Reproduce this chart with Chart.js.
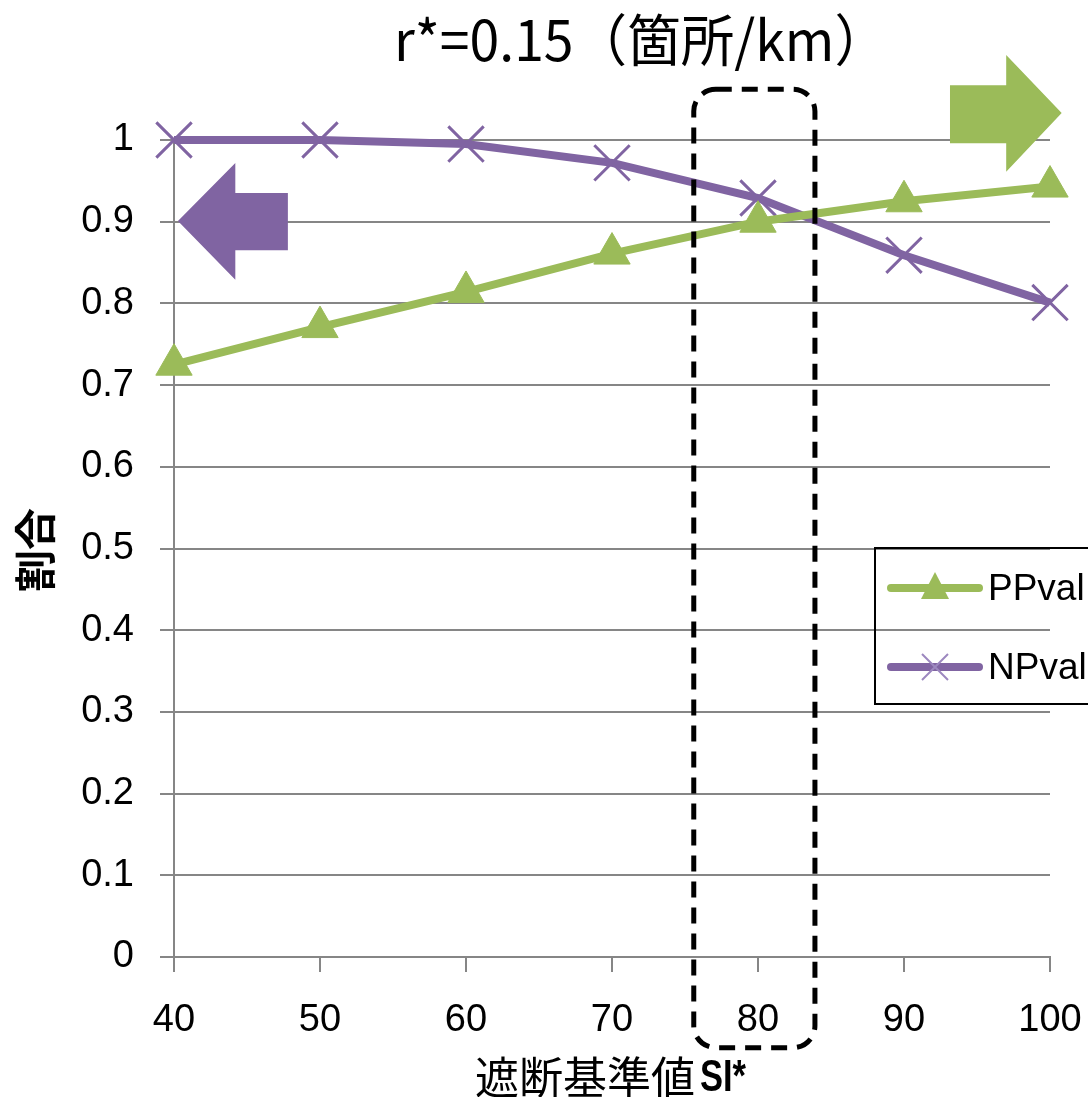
<!DOCTYPE html>
<html lang="ja">
<head>
  <meta charset="UTF-8">
  <title>PPval / NPval</title>
  <style>
    body { margin: 0; padding: 0; background: #fff; }
    #chart-container { width: 1088px; height: 1097px; }
  </style>
  <script src="https://cdn.jsdelivr.net/npm/chart.js"></script>
</head>
<body>
  <div id="chart-container">
    <canvas id="ratioChart" width="1088" height="1097"></canvas>
  </div>
  <script>
    // data
    const thresholds = [40, 50, 60, 70, 80, 90, 100];
    const ppVal = [0.725, 0.771, 0.814, 0.861, 0.900, 0.925, 0.943];
    const npVal = [1.0, 1.0, 0.995, 0.972, 0.929, 0.859, 0.801];
    const seriesNames = ['PPval', 'NPval'];
    const yTickLabels = ['0', '0.1', '0.2', '0.3', '0.4', '0.5', '0.6', '0.7', '0.8', '0.9', '1'];

    const titleText = 'r*=0.15（箇所/km）';
    const xTitleJp = '遮断基準値';
    const xTitleEn = 'SI*';
    const yTitle = '割合';

    const GREEN = '#9BBB59';
    const PURPLE = '#8064A2';
    const GRID = '#868686';
    const tickFont = '"Liberation Sans", Arial, sans-serif';
    const jpFont = '"Noto Sans CJK JP", sans-serif';

    const toPoints = (vals) => vals.map((v, i) => ({ x: thresholds[i], y: v }));

    // draws text squeezed to a given width
    function fitText(ctx, text, x0, cy, width) {
      const w = ctx.measureText(text).width;
      const s = Math.min(1, width / w);
      ctx.save();
      ctx.translate(x0, cy);
      ctx.scale(s, 1);
      ctx.fillText(text, 0, 0);
      ctx.restore();
    }

    function arrow(ctx, pts, color) {
      ctx.beginPath();
      pts.forEach((p, i) => i ? ctx.lineTo(p[0], p[1]) : ctx.moveTo(p[0], p[1]));
      ctx.closePath();
      ctx.fillStyle = color;
      ctx.fill();
    }

    const overlay = {
      id: 'overlay',
      afterDatasetsDraw(chart) {
        const { ctx } = chart;
        const x = chart.scales.x, y = chart.scales.y;
        const px = v => x.getPixelForValue(v), py = v => y.getPixelForValue(v);

        // left purple arrow
        arrow(ctx, [
          [px(40.27), py(0.901)], [px(44.2), py(0.972)], [px(44.2), py(0.935)],
          [px(47.8), py(0.935)], [px(47.8), py(0.865)], [px(44.2), py(0.865)],
          [px(44.2), py(0.829)]
        ], PURPLE);

        // right green arrow
        arrow(ctx, [
          [px(100.8), py(1.033)], [px(97.0), py(1.104)], [px(97.0), py(1.067)],
          [px(93.15), py(1.067)], [px(93.15), py(0.996)], [px(97.0), py(0.996)],
          [px(97.0), py(0.961)]
        ], GREEN);

        // dashed rounded box round SI*=80
        ctx.save();
        ctx.strokeStyle = '#000';
        ctx.lineWidth = 5;
        ctx.setLineDash([16, 10]);
        const bx = px(75.6), bx2 = px(83.9), by = py(1.062), by2 = py(-0.111);
        ctx.beginPath();
        ctx.roundRect(bx, by, bx2 - bx, by2 - by, 22);
        ctx.stroke();
        ctx.restore();
      },
      afterDraw(chart) {
        const { ctx } = chart;
        ctx.save();
        ctx.fillStyle = '#000';
        ctx.textBaseline = 'middle';
        ctx.textAlign = 'left';

        // title
        ctx.font = '56px ' + jpFont;
        fitText(ctx, titleText, 394, 40, 494);

        // x title
        ctx.font = '44px ' + jpFont;
        fitText(ctx, xTitleJp, 475, 1077, 228);
        ctx.font = 'bold 44px "Liberation Sans", sans-serif';
        fitText(ctx, xTitleEn, 700, 1079, 46);

        // y title
        ctx.textAlign = 'center';
        ctx.font = 'bold 42px ' + jpFont;
        ctx.save();
        ctx.translate(35, 550);
        ctx.rotate(-Math.PI / 2);
        ctx.fillText(yTitle, 0, 0);
        ctx.restore();

        // legend
        const lx = 875, ly = 548;
        ctx.lineWidth = 2;
        ctx.strokeStyle = '#000';
        ctx.strokeRect(lx, ly, 220, 156);
        const rows = [588, 667];
        chart.data.datasets.forEach((ds, i) => {
          const ry = rows[i];
          ctx.strokeStyle = ds.borderColor;
          ctx.lineWidth = 8;
          ctx.lineCap = 'round';
          ctx.beginPath();
          ctx.moveTo(lx + 16, ry);
          ctx.lineTo(lx + 104, ry);
          ctx.stroke();
          const mx = lx + 60;
          if (i === 0) {
            ctx.fillStyle = ds.borderColor;
            ctx.beginPath();
            ctx.moveTo(mx, ry - 16);
            ctx.lineTo(mx + 14, ry + 11);
            ctx.lineTo(mx - 14, ry + 11);
            ctx.closePath();
            ctx.fill();
          } else {
            ctx.lineWidth = 2;
            ctx.lineCap = 'butt';
            ctx.strokeStyle = '#9C88BF';
            ctx.beginPath();
            ctx.moveTo(mx - 13, ry - 13); ctx.lineTo(mx + 13, ry + 13);
            ctx.moveTo(mx + 13, ry - 13); ctx.lineTo(mx - 13, ry + 13);
            ctx.stroke();
          }
          ctx.fillStyle = '#000';
          ctx.textAlign = 'left';
          ctx.font = '37px ' + tickFont;
          ctx.fillText(ds.label, lx + 113, ry + 2);
        });
        ctx.restore();
      }
    };

    const ctx = document.getElementById('ratioChart').getContext('2d');
    const ratioChart = new Chart(ctx, {
      type: 'line',
      data: {
        datasets: [
          {
            label: seriesNames[0],
            data: toPoints(ppVal),
            borderColor: GREEN,
            backgroundColor: GREEN,
            borderWidth: 8,
            pointStyle: 'triangle',
            pointRadius: 21,
            pointBorderWidth: 1,
            pointBackgroundColor: GREEN,
            pointBorderColor: GREEN,
            tension: 0,
            clip: false,
          },
          {
            label: seriesNames[1],
            data: toPoints(npVal),
            borderColor: PURPLE,
            backgroundColor: PURPLE,
            borderWidth: 8,
            pointStyle: 'crossRot',
            pointRadius: 25,
            pointBorderWidth: 3,
            pointBorderColor: PURPLE,
            tension: 0,
            clip: false,
          },
        ],
      },
      options: {
        responsive: false,
        animation: false,
        events: [],
        layout: { padding: { top: 140, right: 38, left: 0, bottom: 0 } },
        plugins: {
          legend: { display: false },
          title: { display: false },
          tooltip: { enabled: false },
        },
        scales: {
          x: {
            type: 'linear',
            min: 40,
            max: 100,
            afterFit: (s) => { s.height = 140; s.paddingRight = 0; s.paddingLeft = 0; },
            ticks: {
              stepSize: 10,
              padding: 26,
              color: '#000',
              font: { family: tickFont, size: 38 },
              maxRotation: 0,
            },
            grid: { drawOnChartArea: false, color: GRID, lineWidth: 2, tickLength: 15 },
            border: { color: GRID, width: 2 },
          },
          y: {
            min: 0,
            max: 1,
            afterFit: (s) => { s.width = 174; s.paddingTop = 0; s.paddingBottom = 0; },
            ticks: {
              stepSize: 0.1,
              padding: 26,
              color: '#000',
              font: { family: tickFont, size: 38 },
              callback: (v, i) => yTickLabels[i],
            },
            grid: { color: GRID, lineWidth: 2, tickLength: 14 },
            border: { color: GRID, width: 2 },
          },
        },
      },
      plugins: [overlay],
    });
  </script>
</body>
</html>
